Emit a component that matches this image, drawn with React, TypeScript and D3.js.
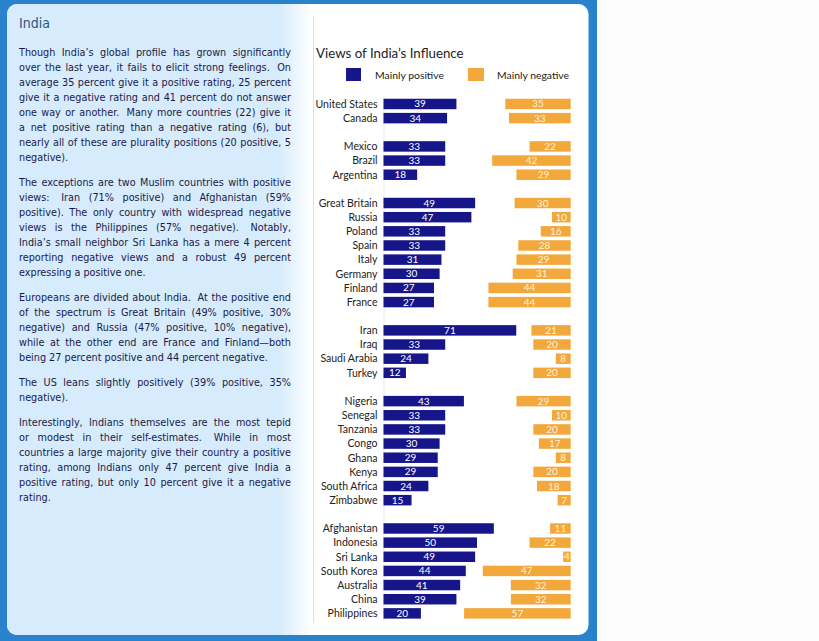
import React from "react";
import * as d3 from "d3";

const countries = [
  "United States", "Canada",
  "Mexico", "Brazil", "Argentina",
  "Great Britain", "Russia", "Poland", "Spain", "Italy", "Germany", "Finland", "France",
  "Iran", "Iraq", "Saudi Arabia", "Turkey",
  "Nigeria", "Senegal", "Tanzania", "Congo", "Ghana", "Kenya", "South Africa", "Zimbabwe",
  "Afghanistan", "Indonesia", "Sri Lanka", "South Korea", "Australia", "China", "Philippines",
];
const groupOf = [
  0, 0,
  1, 1, 1,
  2, 2, 2, 2, 2, 2, 2, 2,
  3, 3, 3, 3,
  4, 4, 4, 4, 4, 4, 4, 4,
  5, 5, 5, 5, 5, 5, 5,
];
const positive = [39, 34, 33, 33, 18, 49, 47, 33, 33, 31, 30, 27, 27, 71, 33, 24, 12, 43, 33, 33, 30, 29, 29, 24, 15, 59, 50, 49, 44, 41, 39, 20];
const negative = [35, 33, 22, 42, 29, 30, 10, 16, 28, 29, 31, 44, 44, 21, 20, 8, 20, 29, 10, 20, 17, 8, 20, 18, 7, 11, 22, 4, 47, 32, 32, 57];

const chartTitle = "Views of India\u2019s Influence";
const legendLabels = ["Mainly positive", "Mainly negative"];
const pageTitle = "India";

const paragraphs: string[][] = [
  [
    "Though India\u2019s global profile has grown significantly",
    "over the last year, it fails to elicit strong feelings.  On",
    "average 35 percent give it a positive rating, 25 percent",
    "give it a negative rating and 41 percent do not answer",
    "one way or another.  Many more countries (22) give it",
    "a net positive rating than a negative rating (6), but",
    "nearly all of these are plurality positions (20 positive, 5",
    "negative).",
  ],
  [
    "The exceptions are two Muslim countries with positive",
    "views:  Iran (71% positive) and Afghanistan (59%",
    "positive). The only country with widespread negative",
    "views is the Philippines (57% negative).  Notably,",
    "India\u2019s small neighbor Sri Lanka has a mere 4 percent",
    "reporting negative views and a robust 49 percent",
    "expressing a positive one.",
  ],
  [
    "Europeans are divided about India.  At the positive end",
    "of the spectrum is Great Britain (49% positive, 30%",
    "negative) and Russia (47% positive, 10% negative),",
    "while at the other end are France and Finland\u2014both",
    "being 27 percent positive and 44 percent negative.",
  ],
  [
    "The US leans slightly positively (39% positive, 35%",
    "negative).",
  ],
  [
    "Interestingly, Indians themselves are the most tepid",
    "or modest in their self-estimates.  While in most",
    "countries a large majority give their country a positive",
    "rating, among Indians only 47 percent give India a",
    "positive rating, but only 10 percent give it a negative",
    "rating.",
  ],
];

const BODY_FONT = "'DejaVu Sans Condensed', 'DejaVu Sans', sans-serif";
const CHART_FONT = "Lato, 'Open Sans', sans-serif";

function useTextLayout() {
  return React.useMemo(() => {
    const canvas = document.createElement("canvas");
    const ctx = canvas.getContext("2d")!;
    const refLine = "being 27 percent positive and 44 percent negative.";
    ctx.font = `100px ${BODY_FONT}`;
    const w100 = ctx.measureText(refLine).width;
    const fs = (249 / w100) * 100;
    ctx.font = `${fs}px ${BODY_FONT}`;
    const measure = (s: string) => ctx.measureText(s).width;
    const spaceW = measure(" ");
    const x0 = 19;
    const width = 272;
    const lines: { y: number; words: { x: number; t: string }[] }[] = [];
    let y = 51.7;
    paragraphs.forEach((p) => {
      p.forEach((line, li) => {
        const justify = li < p.length - 1;
        const tokens = line.replace(/  /g, "\u00a0 ").split(" ");
        const ws = tokens.map(measure);
        const sum = d3.sum(ws);
        const gap = justify && tokens.length > 1 ? (width - sum) / (tokens.length - 1) : spaceW;
        let x = x0;
        const words = tokens.map((t, i) => {
          const r = { x, t };
          x += ws[i] + gap;
          return r;
        });
        lines.push({ y, words });
        y += 15;
      });
      y += 10;
    });
    return { fs, lines };
  }, []);
}

export default function App() {
  const { fs, lines } = useTextLayout();

  const nRows = countries.length + d3.max(groupOf)!;
  const rowIndex = countries.map((_, i) => i + groupOf[i]);
  const y = d3
    .scaleBand<number>()
    .domain(d3.range(nRows))
    .range([96.9, 96.9 + nRows * 14.15])
    .paddingInner(0.26)
    .paddingOuter(0.13);
  const len = d3.scaleLinear().domain([0, 100]).range([0, 187]);
  const posX0 = 383.5;
  const negX1 = 570.7;
  const bh = y.bandwidth();

  const navy = "#16168a";
  const orange = "#f3a83c";

  return (
    <svg
      width={819}
      height={641}
      style={{ position: "absolute", left: 0, top: 0 }}
      xmlns="http://www.w3.org/2000/svg"
    >
      <defs>
        <clipPath id="panelClip">
          <rect x={7} y={4} width={581.5} height={631} rx={10} ry={10} />
        </clipPath>
        <linearGradient id="colGrad" gradientUnits="userSpaceOnUse" x1={7} y1={0} x2={312} y2={0}>
          <stop offset={(278 - 7) / 305} stopColor="#d6ebfb" />
          <stop offset={1} stopColor="#ffffff" />
        </linearGradient>
      </defs>
      <rect x={0} y={0} width={819} height={641} fill="#fcfcfc" />
      <rect x={0} y={0} width={597} height={641} fill="#2a82cc" />
      <rect x={7} y={4} width={581.5} height={631} rx={10} ry={10} fill="#ffffff" />
      <rect x={7} y={4} width={305} height={631} fill="url(#colGrad)" clipPath="url(#panelClip)" />

      <text x={19} y={28} fontFamily={BODY_FONT} fontSize={14} fill="#2e5384">
        {pageTitle}
      </text>
      <g fontFamily={BODY_FONT} fontSize={fs} fill="#1b1b4a">
        {lines.map((ln, i) => (
          <text key={i} y={ln.y + 3.8}>
            {ln.words.map((w, j) => (
              <tspan key={j} x={w.x}>
                {w.t}
              </tspan>
            ))}
          </text>
        ))}
      </g>

      <line x1={313.5} x2={313.5} y1={16} y2={623} stroke="#cfe3f1" strokeWidth={1} />
      <line x1={384} x2={384} y1={96} y2={621} stroke="#e3ebf2" strokeWidth={1} />

      <text x={316} y={57.5} fontFamily={CHART_FONT} fontSize={13.3} fill="#222">
        {chartTitle}
      </text>
      <rect x={346} y={68} width={15} height={13} fill={navy} />
      <text x={375} y={79} fontFamily={CHART_FONT} fontSize={10.4} fill="#222">
        {legendLabels[0]}
      </text>
      <rect x={468} y={68} width={16} height={13} fill={orange} />
      <text x={497} y={79} fontFamily={CHART_FONT} fontSize={10.4} fill="#222">
        {legendLabels[1]}
      </text>

      <g fontFamily={CHART_FONT}>
        {countries.map((c, i) => {
          const top = y(rowIndex[i])!;
          const cy = top + bh / 2;
          const pw = len(positive[i]);
          const nw = len(negative[i]);
          return (
            <g key={c}>
              <text x={377.5} y={cy + 3.8} textAnchor="end" fontSize={10.5} fill="#222">
                {c}
              </text>
              <rect x={posX0} y={top} width={pw} height={bh} fill={navy} />
              <text x={posX0 + pw / 2} y={cy + 3.5} textAnchor="middle" fontSize={10} fill="#ffffff">
                {positive[i]}
              </text>
              <rect x={negX1 - nw} y={top} width={nw} height={bh} fill={orange} />
              <text x={negX1 - nw / 2} y={cy + 3.5} textAnchor="middle" fontSize={10} fill="#fff1da">
                {negative[i]}
              </text>
            </g>
          );
        })}
      </g>
    </svg>
  );
}
